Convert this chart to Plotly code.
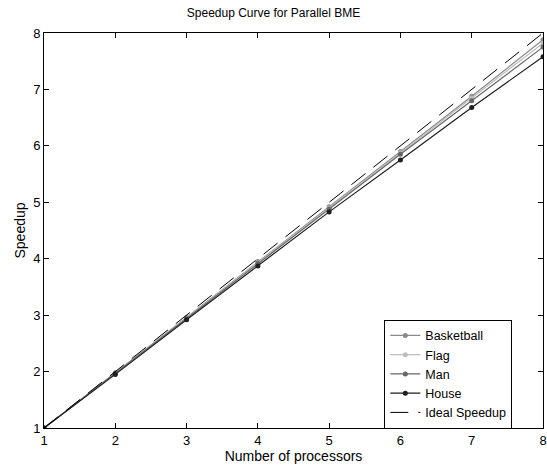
import plotly.graph_objects as go

processors = [1, 2, 3, 4, 5, 6, 7, 8]
basketball = [1, 1.98, 2.96, 3.95, 4.92, 5.90, 6.88, 7.88]
flag = [1, 1.97, 2.95, 3.93, 4.90, 5.88, 6.85, 7.82]
man = [1, 1.97, 2.94, 3.92, 4.88, 5.85, 6.80, 7.75]
house = [1, 1.95, 2.92, 3.87, 4.83, 5.75, 6.68, 7.58]
ideal = [1, 2, 3, 4, 5, 6, 7, 8]

series = [
    ("Basketball", basketball, "#8a8a8a"),
    ("Flag", flag, "#bdbdbd"),
    ("Man", man, "#676767"),
    ("House", house, "#1e1e1e"),
]

fig = go.Figure()
for name, vals, col in series:
    fig.add_trace(go.Scatter(x=processors, y=vals, name=name, mode="lines+markers",
                             line=dict(color=col, width=1.2),
                             marker=dict(color=col, size=5, symbol="circle")))
fig.add_trace(go.Scatter(x=processors, y=ideal, name="Ideal Speedup", mode="lines",
                         line=dict(color="black", width=1, dash="18px,10px")))

axis_common = dict(showgrid=False, zeroline=False, showline=True, linecolor="black",
                   linewidth=1, mirror="ticks", ticks="inside", ticklen=5,
                   tickcolor="black", tickfont=dict(size=13, color="black"),
                   dtick=1, automargin=False)
fig.update_layout(
    width=547, height=472,
    margin=dict(l=44, r=4, t=33, b=44),
    paper_bgcolor="white", plot_bgcolor="white",
    font=dict(family="Liberation Sans, Arial, sans-serif", size=12, color="black"),
    title=dict(text="Speedup Curve for Parallel BME", x=0.5, xanchor="center",
               y=0.972, yanchor="middle", font=dict(size=12)),
    xaxis=dict(range=[1, 8], title=dict(text="Number of processors", standoff=2), **axis_common),
    yaxis=dict(range=[1, 8], title=dict(text="Speedup", standoff=4), **axis_common),
    legend=dict(x=0.682, y=0.274, xanchor="left", yanchor="top",
                bgcolor="white", bordercolor="black", borderwidth=1,
                font=dict(size=12.5), tracegroupgap=0, itemwidth=30),
    showlegend=True,
)
fig.write_html("out.html", config={"displayModeBar": False},
               post_script="document.body.style.margin='0';")
